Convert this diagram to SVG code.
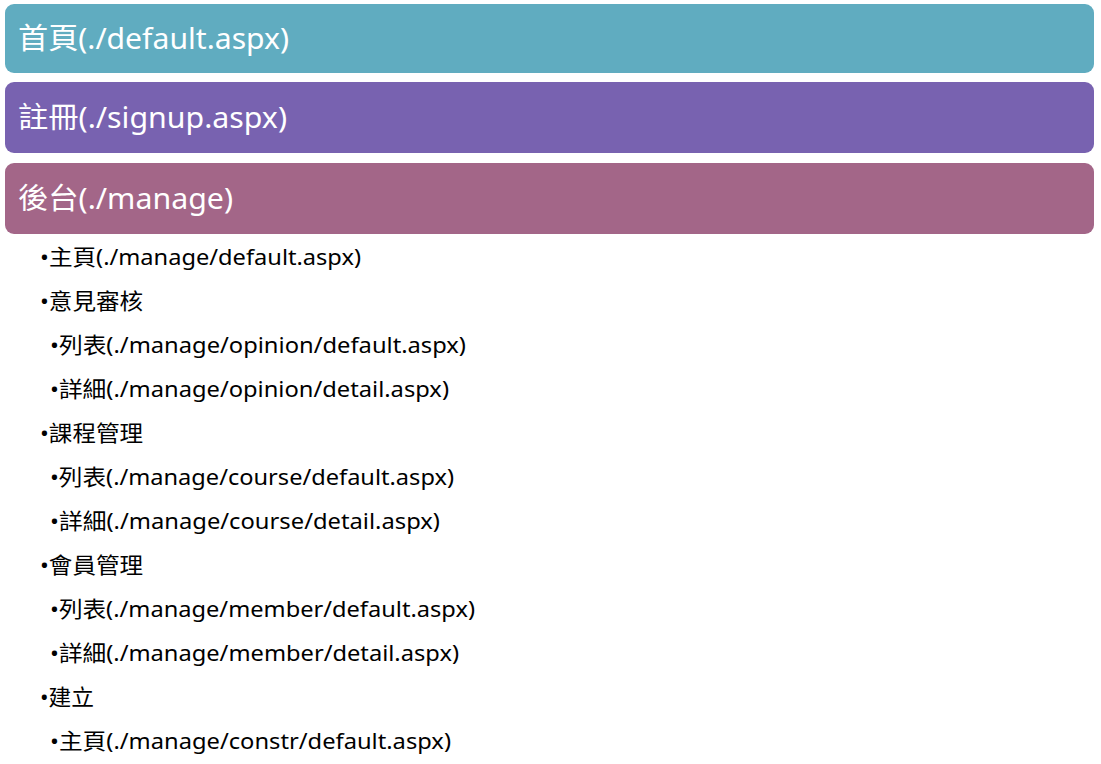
<svg xmlns="http://www.w3.org/2000/svg" width="1101" height="764" viewBox="0 0 1101 764">
<style>
.hdr{font-family:"Noto Sans","Noto Sans CJK TC",sans-serif;font-size:29px;fill:#ffffff}
.item{font-family:"Noto Sans","Noto Sans CJK TC",sans-serif;font-size:22px;fill:#000000}
</style>
<rect x="0" y="0" width="1101" height="764" fill="#ffffff"/>
<g id="home">
<rect x="5" y="4" width="1089" height="69" rx="9" fill="#60acc0"/>
<text class="hdr" x="18" y="49" textLength="271" lengthAdjust="spacingAndGlyphs">首頁(./default.aspx)</text>
</g>
<g id="signup">
<rect x="5" y="82" width="1089" height="71" rx="9" fill="#7862b0"/>
<text class="hdr" x="18" y="128" textLength="269" lengthAdjust="spacingAndGlyphs">註冊(./signup.aspx)</text>
</g>
<g id="manage">
<rect x="5" y="163" width="1089" height="71" rx="9" fill="#a36688"/>
<text class="hdr" x="18" y="209" textLength="215" lengthAdjust="spacingAndGlyphs">後台(./manage)</text>
</g>
<g id="list">
<text class="item" x="40" y="265" textLength="321" lengthAdjust="spacingAndGlyphs">•主頁(./manage/default.aspx)</text>
<text class="item" x="40" y="309" textLength="103" lengthAdjust="spacingAndGlyphs">•意見審核</text>
<text class="item" x="50" y="353" textLength="416" lengthAdjust="spacingAndGlyphs">•列表(./manage/opinion/default.aspx)</text>
<text class="item" x="50" y="397" textLength="399" lengthAdjust="spacingAndGlyphs">•詳細(./manage/opinion/detail.aspx)</text>
<text class="item" x="40" y="441" textLength="103" lengthAdjust="spacingAndGlyphs">•課程管理</text>
<text class="item" x="50" y="485" textLength="404" lengthAdjust="spacingAndGlyphs">•列表(./manage/course/default.aspx)</text>
<text class="item" x="50" y="529" textLength="390" lengthAdjust="spacingAndGlyphs">•詳細(./manage/course/detail.aspx)</text>
<text class="item" x="40" y="573" textLength="103" lengthAdjust="spacingAndGlyphs">•會員管理</text>
<text class="item" x="50" y="617" textLength="425" lengthAdjust="spacingAndGlyphs">•列表(./manage/member/default.aspx)</text>
<text class="item" x="50" y="661" textLength="409" lengthAdjust="spacingAndGlyphs">•詳細(./manage/member/detail.aspx)</text>
<text class="item" x="40" y="705" textLength="54" lengthAdjust="spacingAndGlyphs">•建立</text>
<text class="item" x="50" y="749" textLength="401" lengthAdjust="spacingAndGlyphs">•主頁(./manage/constr/default.aspx)</text>
</g>
<g id="connectors"></g>
</svg>
